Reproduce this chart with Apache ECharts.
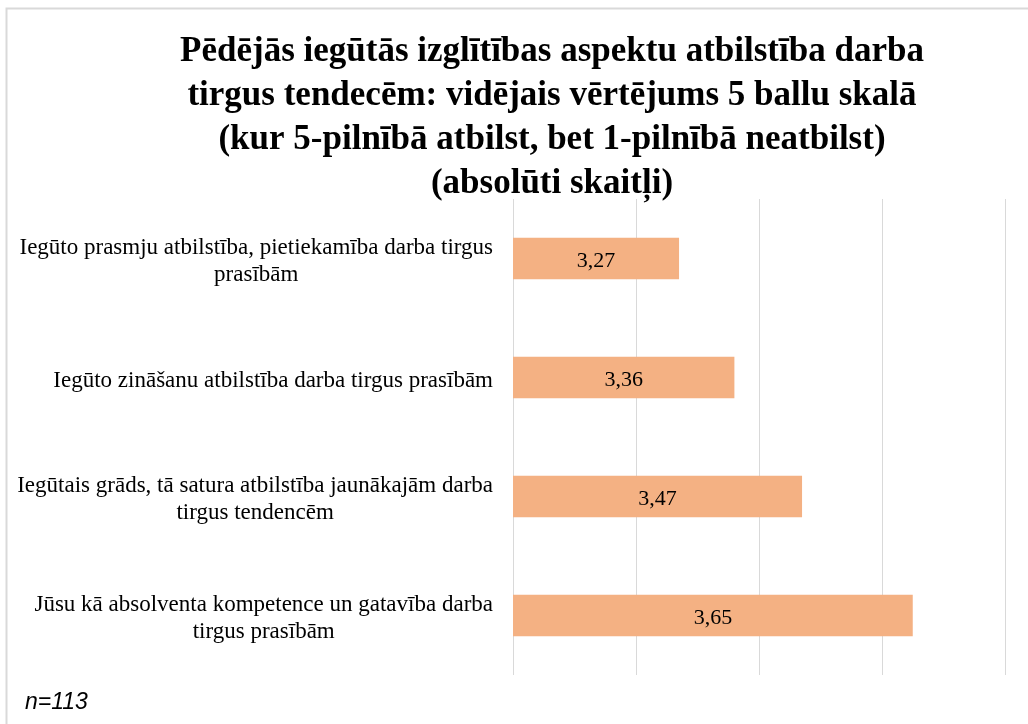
<!DOCTYPE html>
<html>
<head>
<meta charset="utf-8">
<script src="https://cdn.jsdelivr.net/npm/echarts@6/dist/echarts.min.js"></script>
<style>
  html, body { margin: 0; padding: 0; background: #fff; }
  #chart { width: 1028px; height: 724px; }
</style>
</head>
<body>
<div id="chart"></div>
<script>
// data
const titleText = 'Pēdējās iegūtās izglītības aspektu atbilstība darba\ntirgus tendecēm: vidējais vērtējums 5 ballu skalā\n(kur 5-pilnībā atbilst, bet 1-pilnībā neatbilst)\n(absolūti skaitļi)'
const categories = [
  'Iegūto prasmju atbilstība, pietiekamība darba tirgus\nprasībām',
  'Iegūto zināšanu atbilstība darba tirgus prasībām',
  'Iegūtais grāds, tā satura atbilstība jaunākajām darba\ntirgus tendencēm',
  'Jūsu kā absolventa kompetence un gatavība darba\ntirgus prasībām'
]
const values = [3.27, 3.36, 3.47, 3.65]
const noteText = 'n=113'

const chart = echarts.init(document.getElementById('chart'))

const option = {
  backgroundColor: '#ffffff',
  animation: false,
  title: {
    text: titleText,
    left: 547,
    textAlign: 'center',
    top: 25,
    textStyle: {
      fontFamily: 'Liberation Serif',
      fontWeight: 'bold',
      fontSize: 35,
      lineHeight: 44,
      color: '#000'
    }
  },
  graphic: [
    {
      type: 'rect',
      shape: { x: 6.5, y: 8.5, width: 1040, height: 740 },
      style: { fill: 'none', stroke: '#d9d9d9', lineWidth: 2 },
      silent: true
    },
    {
      type: 'text',
      left: 25,
      top: 691,
      style: {
        text: noteText,
        font: 'italic 23px "Liberation Sans"',
        fill: '#000'
      }
    }
  ],
  grid: {
    left: 513,
    top: 199,
    width: 492,
    height: 476,
    containLabel: false
  },
  xAxis: {
    type: 'value',
    min: 3.0,
    max: 3.8,
    interval: 0.2,
    axisLabel: { show: false },
    axisLine: { show: false },
    axisTick: { show: false },
    splitLine: { lineStyle: { color: '#d9d9d9', width: 1 } }
  },
  yAxis: {
    type: 'category',
    inverse: true,
    data: categories,
    axisLine: { show: false },
    axisTick: { show: false },
    axisLabel: {
      margin: 20,
      align: 'right',
      padding: [6, 0, 0, 0],
      formatter: function (v) {
        return v.split('\n').map(s => '{a|' + s + '}').join('\n')
      },
      rich: {
        a: {
          fontFamily: 'Liberation Serif',
          fontSize: 23,
          lineHeight: 27,
          color: '#000',
          align: 'center'
        }
      }
    }
  },
  series: [
    {
      type: 'bar',
      data: values,
      barWidth: '35%',
      itemStyle: { color: '#f4b183' },
      label: {
        show: true,
        position: 'inside',
        offset: [0, 3],
        fontFamily: 'Liberation Serif',
        fontSize: 22,
        color: '#000',
        formatter: p => String(p.value).replace('.', ',')
      }
    }
  ]
}

chart.setOption(option)
</script>
</body>
</html>
